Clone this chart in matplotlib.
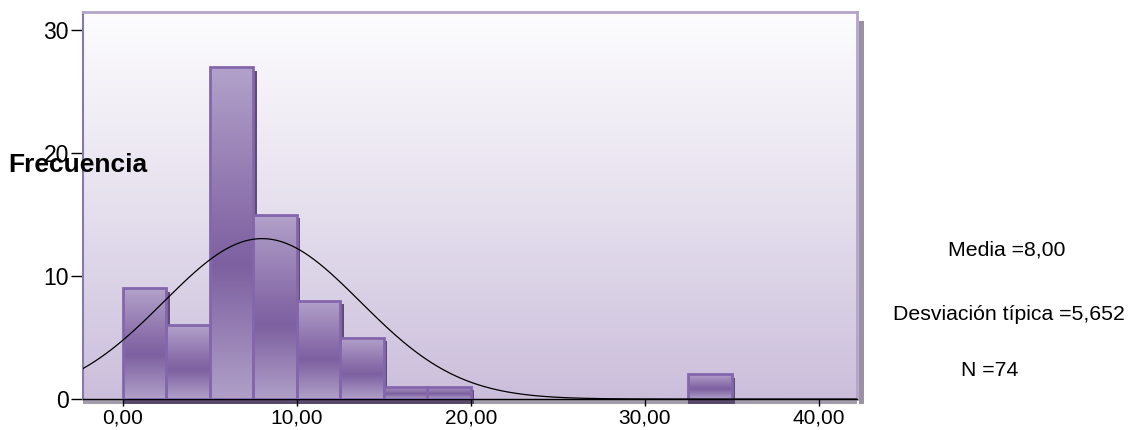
import numpy as np
import matplotlib.pyplot as plt
from matplotlib.colors import LinearSegmentedColormap
from matplotlib.patches import Rectangle
import matplotlib.transforms as mtransforms

plt.rcParams['font.family'] = ['Liberation Sans', 'DejaVu Sans']

# histogram data (bin width 2,5)
bin_left = [0.0, 2.5, 5.0, 7.5, 10.0, 12.5, 15.0, 17.5, 32.5]
counts = [9, 6, 27, 15, 8, 5, 1, 1, 2]
bin_width = 2.5
media = 8.00
desv = 5.652
n_total = 74

x_ticks = [0, 10, 20, 30, 40]
x_tick_labels = ['0,00', '10,00', '20,00', '30,00', '40,00']
y_ticks = [0, 10, 20, 30]

fig = plt.figure(figsize=(11.43, 4.30), dpi=100)
ax = fig.add_axes([0.0726, 0.072, 0.677, 0.9])
ax.set_xlim(-2.3, 42.2)
ax.set_ylim(0, 31.5)

# background gradient
bg = LinearSegmentedColormap.from_list('bg', ['#fdfdfe', '#e6e0ee', '#cbbedb'])
ax.imshow(np.linspace(0, 1, 256).reshape(-1, 1), cmap=bg, aspect='auto',
          extent=[0, 1, 0, 1], transform=ax.transAxes, zorder=0)

bar_cmap = LinearSegmentedColormap.from_list(
    'bar', [(0, '#b2a2ca'), (0.45, '#8a6eaa'), (0.6, '#7d60a0'), (1, '#b0a0c8')])
grad = np.linspace(0, 1, 256).reshape(-1, 1)

# shadow offset in pixels
shadow = mtransforms.offset_copy(ax.transData, fig=fig, x=3.5, y=-3.5, units='dots')

for left, c in zip(bin_left, counts):
    ax.add_patch(Rectangle((left, 0), bin_width, c, facecolor='#5e4c74',
                           edgecolor='none', transform=shadow, zorder=2))
for left, c in zip(bin_left, counts):
    im = ax.imshow(grad, cmap=bar_cmap, aspect='auto',
                   extent=[left, left + bin_width, 0, c], zorder=3)
    rect = Rectangle((left, 0), bin_width, c, facecolor='none',
                     edgecolor='#8466ac', linewidth=2, zorder=4)
    ax.add_patch(rect)
    im.set_clip_path(rect)

# floor strip under the axis
floor = mtransforms.blended_transform_factory(ax.transData, ax.transAxes)
ax.add_patch(Rectangle((-2.3, -0.013), 44.5, 0.013, transform=floor,
                       facecolor='#a39cab', edgecolor='none', clip_on=False, zorder=1))
for left, c in zip(bin_left, counts):
    ax.add_patch(Rectangle((left, -0.013), bin_width + 0.2, 0.013, transform=floor,
                           facecolor='#594a6c', edgecolor='none', clip_on=False, zorder=1))

# normal curve
xs = np.linspace(-2.3, 42.2, 400)
ys = n_total * bin_width / (desv * np.sqrt(2 * np.pi)) * np.exp(-0.5 * ((xs - media) / desv) ** 2)
ax.plot(xs, ys, color='black', linewidth=0.9, zorder=5)

# frame
ax.spines['top'].set_color('#b4a4cc')
ax.spines['top'].set_linewidth(2)
ax.spines['left'].set_color('#8a78a8')
ax.spines['left'].set_linewidth(1.5)
ax.spines['right'].set_color('#b4a4cc')
ax.spines['right'].set_linewidth(2)
ax.spines['bottom'].set_color('black')
ax.spines['bottom'].set_linewidth(1)
ax.add_patch(Rectangle((1.003, -0.013), 0.006, 0.99, transform=ax.transAxes,
                       facecolor='#9a92a4', edgecolor='none', clip_on=False, zorder=1))

ax.set_xticks(x_ticks)
ax.set_xticklabels(x_tick_labels)
ax.set_yticks(y_ticks)
ax.tick_params(axis='y', length=9, width=1, pad=1, labelsize=16.5)
ax.tick_params(axis='x', length=5, width=1, pad=1.5, labelsize=15)

fig.text(0.007, 1 - 165 / 430, 'Frecuencia', fontsize=19, fontweight='bold',
         ha='left', va='center')

fig.text(1007 / 1143, 1 - 250 / 430, 'Media =8,00', fontsize=15.3, ha='center', va='center')
fig.text(1009 / 1143, 1 - 315 / 430, 'Desviación típica =5,652', fontsize=15.3,
         ha='center', va='center')
fig.text(990 / 1143, 1 - 371 / 430, 'N =74', fontsize=15.3, ha='center', va='center')

fig.savefig('out.png', dpi=100)
